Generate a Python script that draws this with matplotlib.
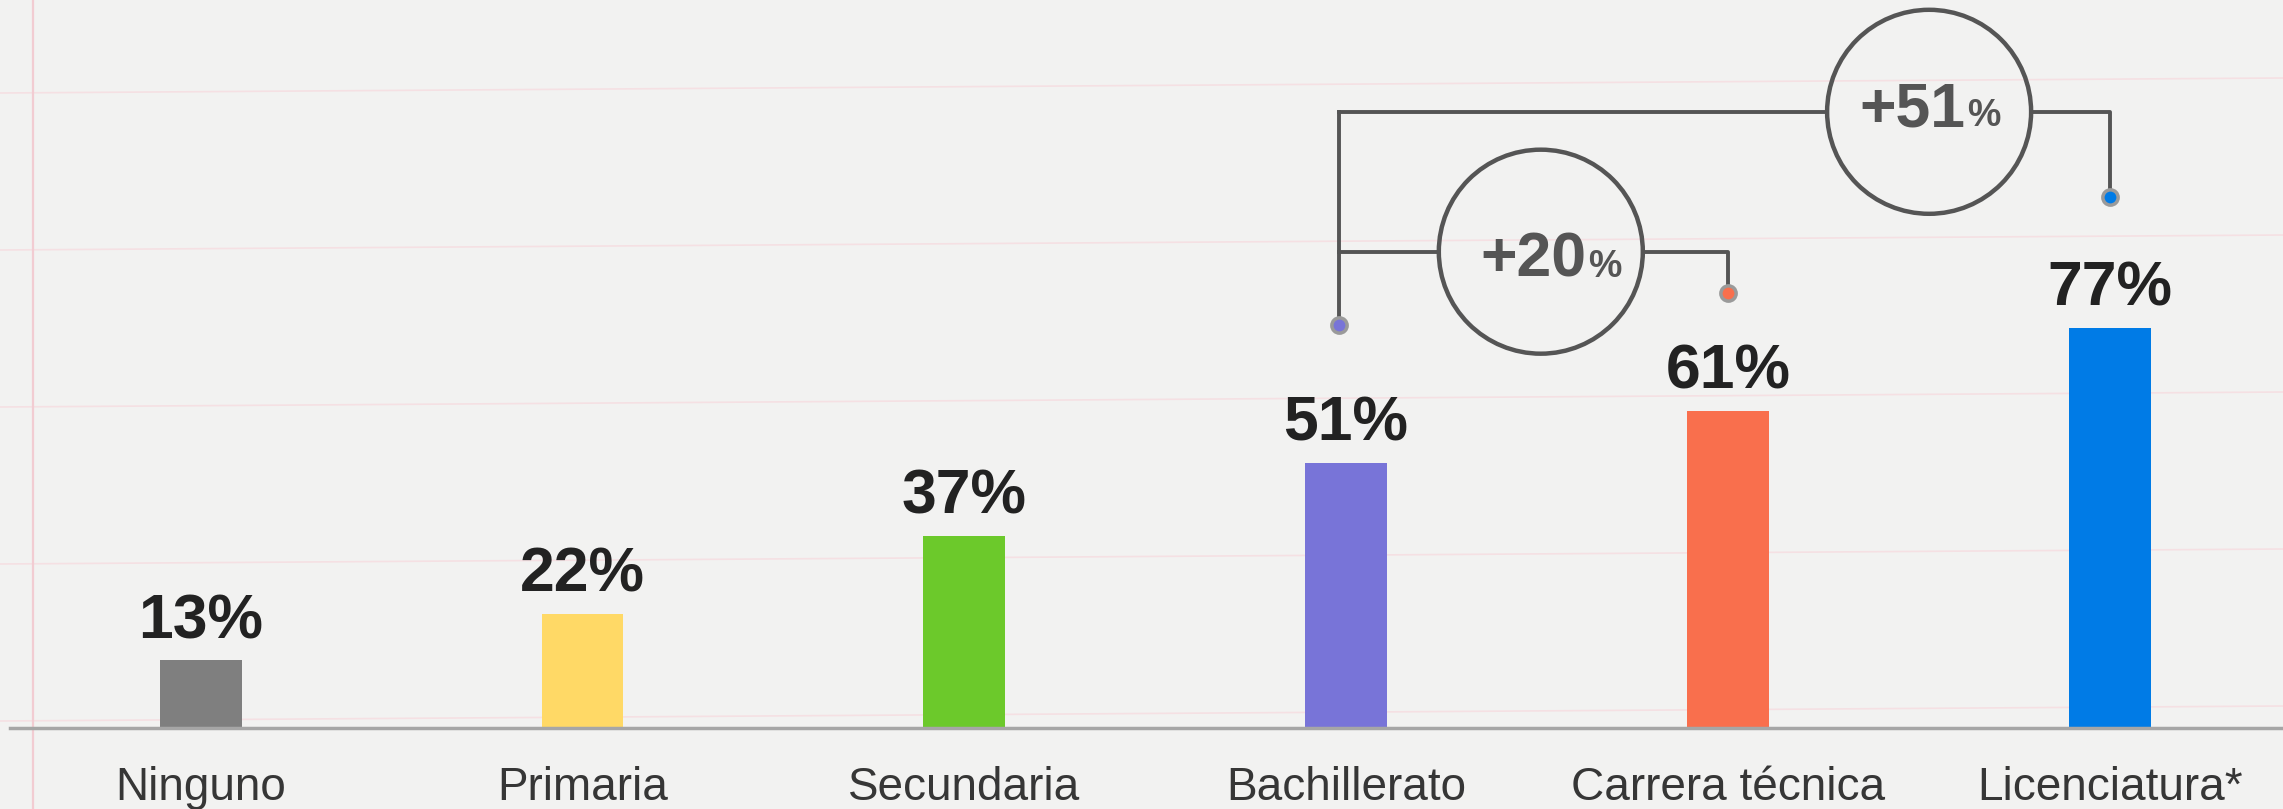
import numpy as np
import matplotlib
matplotlib.use("Agg")
import matplotlib.pyplot as plt
from matplotlib.patches import Ellipse

# data
categories = ["Ninguno", "Primaria", "Secundaria", "Bachillerato", "Carrera técnica", "Licenciatura*"]
values = [13, 22, 37, 51, 61, 77]
bar_colors = ["#7f7f7f", "#ffd966", "#6cc92b", "#7874d8", "#f96f4d", "#007be6"]
value_labels = [f"{v}%" for v in values]

# comparison brackets: (from bar, to bar, label)
comparisons = [(3, 4, "+20"), (3, 5, "+51")]

plt.rcParams['font.family'] = ['Liberation Sans', 'DejaVu Sans']

W, H, DPI = 2283, 809, 100
fig = plt.figure(figsize=(W / DPI, H / DPI), dpi=DPI)
fig.patch.set_facecolor("#f2f2f1")

ax = fig.add_axes([0, 0, 1, 1])
ax.set_facecolor("#f2f2f1")
# x: one unit per bar (381.8 px), y: 5.2 px per percent, baseline at 728 px
px_x, x0 = 381.8, 200.7
px_y, y0 = 5.2, 728
ax.set_xlim(-x0 / px_x, (W - x0) / px_x)
ax.set_ylim((y0 - H) / px_y, y0 / px_y)
ax.axis("off")

# notebook paper lines
for k in range(5):
    yp = 93 + 157 * k
    ax.plot([0, 1], [1 - yp / H, 1 - (yp - 15) / H], transform=ax.transAxes,
            color="#f5e0e3", lw=1.2, zorder=0)
ax.plot([33 / W, 33 / W], [0, 1], transform=ax.transAxes, color="#f2ccd2", lw=1.6, zorder=0)

x = np.arange(len(categories))
ax.bar(x, values, width=0.214, color=bar_colors, zorder=3)

# baseline
ax.plot([10 / W, 1], [1 - y0 / H, 1 - y0 / H], transform=ax.transAxes,
        color="#a6a6a6", lw=2.5, zorder=4)

for xi, v, lab in zip(x, values, value_labels):
    ax.text(xi, v + 4.3, lab, ha="center", va="baseline", fontsize=45,
            fontweight="bold", color="#222222", zorder=5)

for xi, cat in zip(x, categories):
    ax.text(xi, -13.85, cat, ha="center", va="baseline", fontsize=33,
            color="#363636", zorder=5)

# brackets with circles
line_c = "#555555"
lw = 2.8
rad = 102
x_left = 2.981
dot_y = {3: 77.5, 4: 83.7, 5: 102.1}
level_y = {(3, 4): 91.6, (3, 5): 118.5}
circ_x = {(3, 4): 3.510, (3, 5): 4.527}
txt_dx = {(3, 4): 0.12, (3, 5): 0.095}
txt_dy = {(3, 4): 4.8, (3, 5): 2.8}

ax.plot([x_left, x_left], [dot_y[3], level_y[(3, 5)]], color=line_c, lw=lw, zorder=4)
for a, b, lab in comparisons:
    ly = level_y[(a, b)]
    cx = circ_x[(a, b)]
    rx, ry = rad / px_x, rad / px_y
    ax.plot([x_left, cx - rx], [ly, ly], color=line_c, lw=lw, zorder=4)
    ax.plot([cx + rx, b, b], [ly, ly, dot_y[b]], color=line_c, lw=lw, zorder=4)
    ax.add_patch(Ellipse((cx, ly), 2 * rx, 2 * ry, facecolor="none",
                         edgecolor=line_c, lw=lw + 0.4, zorder=4))
    ax.text(cx + txt_dx[(a, b)], ly - txt_dy[(a, b)], lab, ha="right", va="baseline",
            fontsize=45, fontweight="bold", color=line_c, zorder=5)
    ax.text(cx + txt_dx[(a, b)] + 0.005, ly - txt_dy[(a, b)], "%", ha="left", va="baseline",
            fontsize=27, fontweight="bold", color=line_c, zorder=5)

for i, yv in dot_y.items():
    xd = x_left if i == 3 else i
    ax.plot(xd, yv, "o", ms=11, mfc=bar_colors[i], mec="#9a9a9a", mew=2.5, zorder=6)

fig.savefig("out.png", dpi=DPI, facecolor=fig.get_facecolor())
